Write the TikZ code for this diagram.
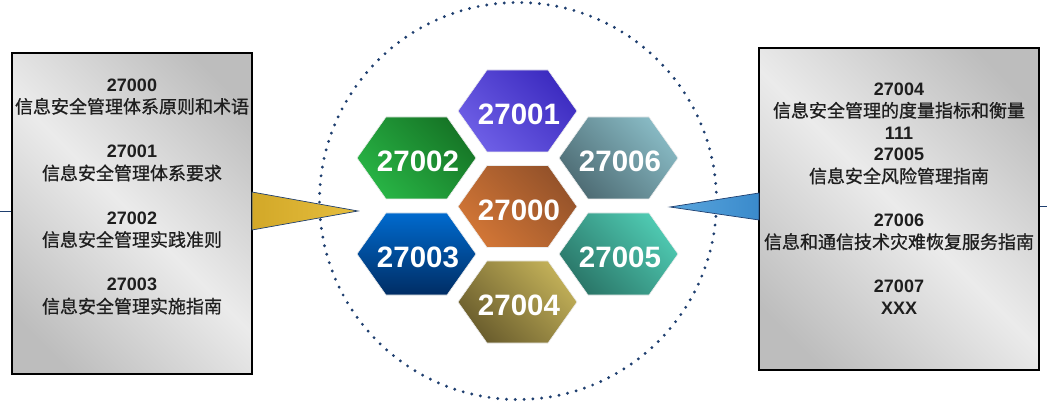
\documentclass[tikz,border=0pt]{standalone}
\usepackage{fontspec}
\setmainfont{Liberation Sans}
\newfontfamily\cjk[FakeBold=0.8]{Noto Sans CJK SC}
\usetikzlibrary{calc}
\definecolor{navy}{HTML}{1F3F6F}
\definecolor{boxdark}{HTML}{BDBDBD}
\definecolor{boxlight}{HTML}{EBEBEB}
\definecolor{txt}{HTML}{1E1E1E}
\definecolor{goldA}{HTML}{D2A828}
\definecolor{goldB}{HTML}{E6BE3E}
\definecolor{bluA}{HTML}{5AA6DE}
\definecolor{bluB}{HTML}{3A8ACB}
\pgfdeclarehorizontalshading{boxgrad}{100bp}{color(0bp)=(boxdark); color(22bp)=(boxdark); color(50bp)=(boxlight); color(78bp)=(boxdark); color(100bp)=(boxdark)}
\tikzset{
  docbox/.style={draw=black, line width=1.1pt, shading=boxgrad, shading angle=45, rectangle, inner sep=0pt},
  doctext/.style={align=center, text=txt, font=\fontsize{18}{22.2}\selectfont, inner sep=0pt},
  hexlabel/.style={text=white, font=\fontsize{29.5}{32}\selectfont\bfseries, inner sep=0pt},
  hexshape/.style={draw=white!85!gray, line width=0.6pt},
  pointer/.style={draw=navy, line width=0.7pt},
}
\newcommand\hexcell[6]{%
  \path[hexshape, shading=axis, bottom color=#3, top color=#4, shading angle=#5, shift={#2}]
    (-59.5,0) -- (-30.5,41) -- (30.5,41) -- (59.5,0) -- (30.5,-41) -- (-30.5,-41) -- cycle;
  \node[hexlabel] (#1) at ($#2+(1.5,-3.5)$) {#6};
}
\begin{document}
\begin{tikzpicture}[x=1pt,y=1pt]
\useasboundingbox (0,0) rectangle (1047,402);
% dotted circle
\coordinate (cc) at (518,201);
\draw[navy, line width=3.2pt, line cap=round, dash pattern=on 0pt off 8.8pt] (cc) circle (198.5);
% boxes
\node[docbox, minimum width=240pt, minimum height=321pt] (lbox) at (132,188.5) {};
\node[docbox, minimum width=280pt, minimum height=322pt] (rbox) at (899,193) {};
% side lines
\coordinate (lend) at (0,190);
\coordinate (rend) at (1047,195);
\draw[navy, line width=1pt] (lend) -- (lend -| lbox.west);
\draw[navy, line width=1pt] (rend) -- (rend -| rbox.east);
% pointers
\coordinate (ltip) at (358,191);
\coordinate (rtip) at (670,195);
\coordinate (lb1) at (252,210);
\coordinate (lb2) at (252,172);
\coordinate (rb1) at (759,209);
\coordinate (rb2) at (759,182);
\path[pointer, left color=goldA, right color=goldB]
  (lb1) -- (ltip) -- (lb2) -- cycle;
\path[pointer, left color=bluA, right color=bluB]
  (rb1) -- (rtip) -- (rb2) -- cycle;
% hexagons
\definecolor{pA}{HTML}{6E5FE6}\definecolor{pB}{HTML}{3C2BC0}
\definecolor{gA}{HTML}{28B445}\definecolor{gB}{HTML}{167526}
\definecolor{tA}{HTML}{4E6C74}\definecolor{tB}{HTML}{88BAC4}
\definecolor{oA}{HTML}{D27636}\definecolor{oB}{HTML}{94522A}
\definecolor{bA}{HTML}{002D64}\definecolor{bB}{HTML}{006ACE}
\definecolor{sA}{HTML}{2A7668}\definecolor{sB}{HTML}{4FCAB2}
\definecolor{yA}{HTML}{6A5D2D}\definecolor{yB}{HTML}{C2B058}
\hexcell{h1}{(517.5,291)}{pA}{pB}{-45}{27001}
\hexcell{h2}{(416.5,244)}{gA}{gB}{-45}{27002}
\hexcell{h6}{(618.5,244)}{tA}{tB}{-45}{27006}
\hexcell{h0}{(517.5,195.5)}{oA}{oB}{-45}{27000}
\hexcell{h3}{(416.5,148)}{bA}{bB}{0}{27003}
\hexcell{h5}{(618.5,148)}{sA}{sB}{-45}{27005}
\hexcell{h4}{(517.5,100)}{yA}{yB}{-45}{27004}
% texts
\node[doctext] (ltext) at (132,205.5) {\textbf{27000}\\{\cjk 信息安全管理体系原则和术语}\\[22.2pt]\textbf{27001}\\{\cjk 信息安全管理体系要求}\\[22.2pt]\textbf{27002}\\{\cjk 信息安全管理实践准则}\\[22.2pt]\textbf{27003}\\{\cjk 信息安全管理实施指南}};
\node[doctext, font=\fontsize{18}{21.9}\selectfont] (rtext) at (899,203.5) {\textbf{27004}\\{\cjk 信息安全管理的度量指标和衡量}\\\textbf{111}\\\textbf{27005}\\{\cjk 信息安全风险管理指南}\\[21.9pt]\textbf{27006}\\{\cjk 信息和通信技术灾难恢复服务指南}\\[21.9pt]\textbf{27007}\\\textbf{XXX}};
\end{tikzpicture}
\end{document}
